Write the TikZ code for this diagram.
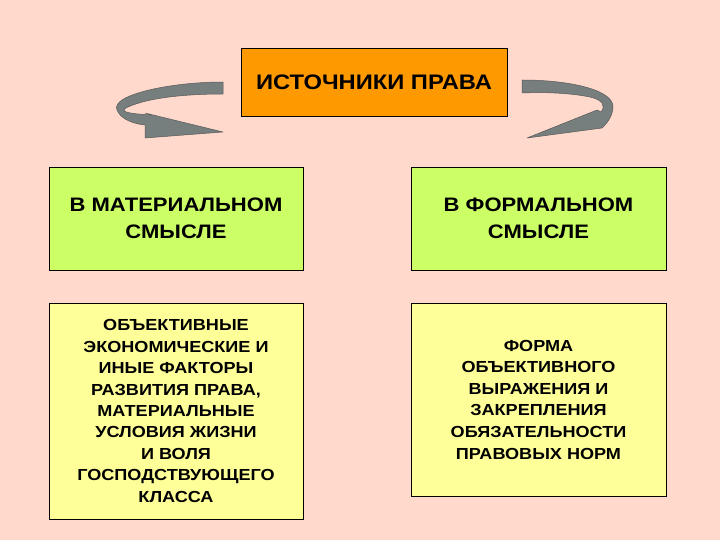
\documentclass[tikz,border=0pt]{standalone}
\usepackage{fontspec}
\setmainfont{Liberation Sans}[FakeStretch=1.13]
\definecolor{bgpink}{RGB}{255,217,204}
\definecolor{titleorange}{RGB}{255,153,0}
\definecolor{sensegreen}{RGB}{204,255,102}
\definecolor{noteyellow}{RGB}{255,255,153}
\definecolor{arrowgray}{RGB}{118,126,126}
\tikzset{
  box/.style={draw=black, line width=0.8pt, align=center, inner sep=0pt, font=\bfseries},
  curlarrow/.style={fill=arrowgray, draw=black!65, line width=0.5pt, line join=round}
}

\begin{document}
\begin{tikzpicture}[x=1pt, y=-1pt]
  \fill[bgpink] (0,0) rectangle (720,540);
  \useasboundingbox (0,0) rectangle (720,540);
  \node[box, fill=titleorange, minimum width=266pt, minimum height=68pt,
        font=\fontsize{21}{25}\bfseries] (T) at (374,82) {ИСТОЧНИКИ ПРАВА};
  \node[box, fill=sensegreen, minimum width=254pt, minimum height=103pt,
        font=\fontsize{19.5}{27}\bfseries] (M) at (176,218.5) {В МАТЕРИАЛЬНОМ\\СМЫСЛЕ};
  \node[box, fill=sensegreen, minimum width=255pt, minimum height=103pt,
        font=\fontsize{19.5}{27}\bfseries] (F) at (538.5,218.5) {В ФОРМАЛЬНОМ\\СМЫСЛЕ};
  \node[box, fill=noteyellow, minimum width=254pt, minimum height=216pt,
        font=\fontsize{16}{21.4}\bfseries] (MT) at (176,411) {ОБЪЕКТИВНЫЕ\\ЭКОНОМИЧЕСКИЕ И\\ИНЫЕ ФАКТОРЫ\\РАЗВИТИЯ ПРАВА,\\МАТЕРИАЛЬНЫЕ\\УСЛОВИЯ ЖИЗНИ\\И ВОЛЯ\\ГОСПОДСТВУЮЩЕГО\\КЛАССА};
  \node[box, fill=noteyellow, minimum width=255pt, minimum height=193pt,
        font=\fontsize{16}{21.6}\bfseries] (FT) at (538.5,399.5) {ФОРМА\\ОБЪЕКТИВНОГО\\ВЫРАЖЕНИЯ И\\ЗАКРЕПЛЕНИЯ\\ОБЯЗАТЕЛЬНОСТИ\\ПРАВОВЫХ НОРМ};
  % curved arrows beside the title
  \draw[curlarrow] (223,82) .. controls (170,82) and (110,95) .. (117,110)
    .. controls (121,120) and (135,124) .. (145,125) -- (145,138) -- (223,132)
    -- (145,113) -- (153,115) .. controls (132,114) and (116,112) .. (128,107)
    .. controls (150,97) and (190,94) .. (223,94) -- cycle;
  \draw[curlarrow] (522,80) .. controls (570,80) and (615,90) .. (613,108)
    .. controls (612,118) and (606,124) .. (602,128) -- (527,138) -- (597,110)
    -- (601,112) .. controls (606,106) and (603,100) .. (590,97)
    .. controls (570,93) and (545,92) .. (522,93) -- cycle;
\end{tikzpicture}
\end{document}
